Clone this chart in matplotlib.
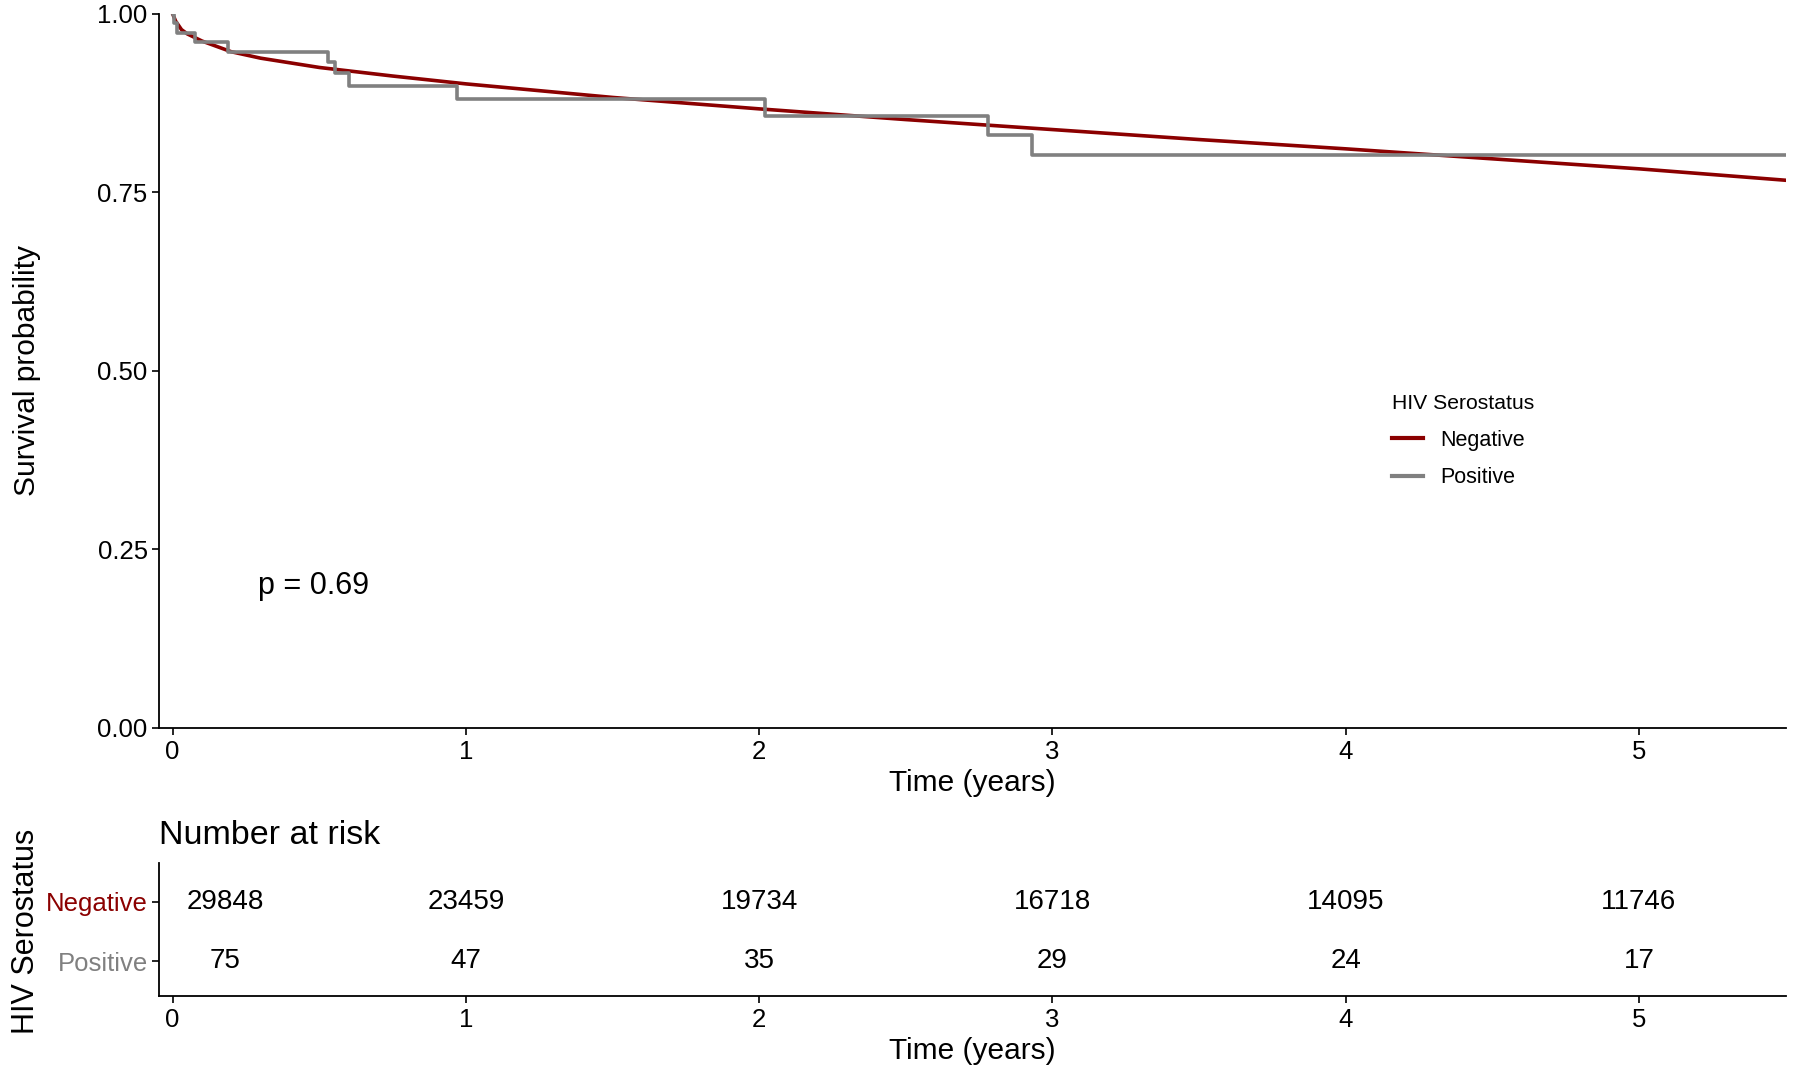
import numpy as np
import matplotlib.pyplot as plt

plt.rcParams['font.family'] = ['Liberation Sans', 'DejaVu Sans']

# Negative group (smooth KM curve)
neg_t = [0, 0.01, 0.02, 0.03, 0.05, 0.1, 0.2, 0.3, 0.5, 0.75, 1.0, 1.5, 2.0, 2.5, 3.0, 3.5, 4.0, 4.5, 5.0, 5.5]
neg_s = [1.0, 0.99, 0.984, 0.978, 0.972, 0.962, 0.947, 0.938, 0.925, 0.913, 0.902, 0.883, 0.867, 0.852,
         0.838, 0.824, 0.811, 0.797, 0.783, 0.767]

# Positive group step function
pos_t = [0, 0.005, 0.015, 0.075, 0.19, 0.53, 0.555, 0.60, 0.97, 2.02, 2.78, 2.93, 5.5]
pos_s = [1.0, 0.987, 0.973, 0.960, 0.946, 0.932, 0.917, 0.899, 0.881, 0.857, 0.830, 0.803, 0.803]

risk_times = [0, 1, 2, 3, 4, 5]
risk_neg = [29848, 23459, 19734, 16718, 14095, 11746]
risk_pos = [75, 47, 35, 29, 24, 17]

red = '#8B0000'
grey = '#808080'

fig = plt.figure(figsize=(18, 10.71), dpi=100)
ax = fig.add_axes([0.0886, 0.3205, 0.9034, 0.6665])
ax2 = fig.add_axes([0.0886, 0.070, 0.9034, 0.124])

ax.plot(neg_t, neg_s, color=red, lw=2.6, label='Negative')
ax.step(pos_t, pos_s, where='post', color=grey, lw=2.6, label='Positive')

ax.set_xlim(-0.045, 5.5)
ax.set_ylim(0, 1.0)
ax.set_xticks(risk_times)
ax.set_yticks([0, 0.25, 0.5, 0.75, 1.0])
ax.set_yticklabels(['0.00', '0.25', '0.50', '0.75', '1.00'])
ax.set_xlabel('Time (years)', fontsize=21.5, labelpad=4)
ax.set_ylabel('Survival probability', fontsize=21.5)
ax.yaxis.set_label_coords(-0.073, 0.5)
ax.text(0.29, 0.198, 'p = 0.69', fontsize=22, ha='left', va='center')

leg = ax.legend(title='HIV Serostatus', loc='upper left', bbox_to_anchor=(0.746, 0.495),
                frameon=False, fontsize=15.5, title_fontsize=15.2, handlelength=1.45,
                labelspacing=0.78, alignment='left')
for h in leg.get_lines():
    h.set_linewidth(3)

for a in (ax, ax2):
    a.spines['top'].set_visible(False)
    a.spines['right'].set_visible(False)
    a.spines['left'].set_linewidth(1.3)
    a.spines['bottom'].set_linewidth(1.3)
    a.tick_params(direction='out', length=5, width=1.2, labelsize=18.5, colors='black')

# risk table
for t, n in zip(risk_times, risk_neg):
    ax2.text(max(t, 0.18), 2, str(n), ha='center', va='center', fontsize=20)
for t, n in zip(risk_times, risk_pos):
    ax2.text(max(t, 0.18), 1, str(n), ha='center', va='center', fontsize=20)
ax2.set_xlim(-0.045, 5.5)
ax2.set_ylim(0.42, 2.65)
ax2.set_xticks(risk_times)
ax2.set_yticks([1, 2])
ax2.set_yticklabels(['Positive', 'Negative'], fontsize=18.5)
ax2.get_yticklabels()[0].set_color(grey)
ax2.get_yticklabels()[1].set_color(red)
ax2.set_xlabel('Time (years)', fontsize=21.5, labelpad=4)
ax2.set_ylabel('HIV Serostatus', fontsize=22)
ax2.yaxis.set_label_coords(-0.073, 0.49)
ax2.set_title('Number at risk', loc='left', fontsize=24.5, pad=14)

fig.savefig('out.png', dpi=100)
